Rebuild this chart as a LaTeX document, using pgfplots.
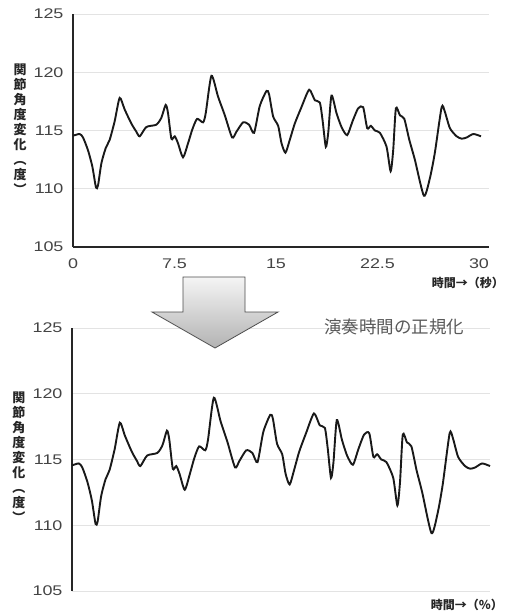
\documentclass[border=0pt]{standalone}
\usepackage{pgfplots}
\pgfplotsset{compat=1.18}
\usepackage{pgfplotstable}
\usepackage{fontspec}
\setmainfont{Liberation Sans}
\newfontfamily\tickfont[FakeStretch=1.28]{Liberation Sans}
\newfontfamily\cjk{Noto Sans CJK JP}
\definecolor{gridc}{HTML}{E3E3E3}
\definecolor{tickc}{HTML}{444444}
\pgfplotstableread{
t y
0.00 114.55
0.49 114.70
0.74 114.40
1.11 113.30
1.43 111.90
1.70 110.10
1.85 110.30
2.10 112.20
2.42 113.50
2.71 114.20
3.08 115.80
3.45 117.80
3.82 116.80
4.31 115.60
4.68 114.90
4.93 114.50
5.42 115.30
6.16 115.50
6.53 116.10
6.85 117.20
7.02 116.50
7.27 114.30
7.52 114.50
7.76 113.90
8.13 112.70
8.50 113.90
8.82 115.10
9.17 116.00
9.61 115.70
9.81 116.50
10.23 119.70
10.72 117.90
11.22 116.30
11.76 114.40
12.08 114.90
12.57 115.70
13.01 115.50
13.38 114.80
13.80 117.10
14.30 118.40
14.49 118.10
14.79 116.20
15.16 115.40
15.41 113.90
15.70 113.10
16.02 114.20
16.39 115.60
16.88 117.00
17.45 118.50
17.87 117.60
18.24 117.40
18.44 115.90
18.68 113.60
18.86 114.80
19.10 118.00
19.47 116.50
19.84 115.30
20.26 114.60
20.66 115.80
21.07 116.90
21.44 117.00
21.74 115.20
22.01 115.40
22.31 115.00
22.68 114.80
23.17 113.60
23.47 111.50
23.66 113.30
23.86 116.90
24.16 116.30
24.48 116.00
24.85 114.20
25.26 112.50
25.93 109.40
26.37 110.90
26.74 113.10
27.24 117.00
27.48 116.60
27.85 115.20
28.35 114.50
28.72 114.30
29.09 114.40
29.58 114.70
30.15 114.50
}\angledata
\pgfplotsset{
  base/.style={
    scale only axis,
    anchor=north west,
    axis lines*=left,
    axis line style={draw=black!85, line width=1.3pt},
    ymin=105, ymax=125,
    ytick={105,110,115,120,125},
    ymajorgrids,
    grid style={gridc, line width=0.8pt},
    major tick length=0pt,
    tick label style={font=\tickfont\fontsize{14}{16}\selectfont, text=tickc},
    /pgf/number format/assume math mode=true,
    yticklabel style={xshift=-6pt},
    clip=false,
  }
}
\begin{document}
\begin{tikzpicture}
\path[use as bounding box] (0pt,0pt) rectangle (506pt,-616pt);
% top chart
\begin{axis}[base,
  at={(73pt,-14pt)}, width=416pt, height=233pt,
  xmin=0, xmax=30.74,
  xtick={0,7.5,15,22.5,30},
  xticklabels={0,7.5,15,22.5,30},
  xticklabel style={yshift=-8pt},
]
\addplot[black!90, line width=1.9pt, smooth, tension=0.4] table[x=t,y=y] {\angledata};
\end{axis}
% bottom chart
\begin{axis}[base,
  at={(72pt,-328pt)}, width=418pt, height=263pt,
  xmin=0, xmax=100,
  xtick=\empty,
  x axis line style={draw=none},
]
\addplot[black!90, line width=1.9pt, smooth, tension=0.4] table[x expr=\thisrow{t}/30.15*100,y=y] {\angledata};
\end{axis}
% y labels
\node[font=\cjk\bfseries\fontsize{13}{15}\selectfont, text=black!85, align=center, inner sep=0pt] at (20pt,-129pt) {関\\節\\角\\度\\変\\化\\︵\\度\\︶};
\node[font=\cjk\bfseries\fontsize{13}{15}\selectfont, text=black!85, align=center, inner sep=0pt] at (19pt,-457pt) {関\\節\\角\\度\\変\\化\\︵\\度\\︶};
% x labels
\node[font=\cjk\bfseries\fontsize{12}{14}\selectfont, text=black!85, anchor=east, inner sep=0pt] at (504pt,-283pt) {時間→（秒）};
\node[font=\cjk\bfseries\fontsize{12}{14}\selectfont, text=black!85, anchor=east, inner sep=0pt] at (503pt,-605pt) {時間→（％）};
% arrow
\shade[top color=gray!8, bottom color=gray!60, draw=black!70, line width=0.8pt]
  (183pt,-277pt) -- (245pt,-277pt) -- (245pt,-312pt) -- (278pt,-312pt) -- (215pt,-348pt) -- (152pt,-312pt) -- (183pt,-312pt) -- cycle;
\node[font=\cjk\fontsize{17.5}{19}\selectfont, text=black!65, inner sep=0pt] at (394pt,-327pt) {演奏時間の正規化};
\end{tikzpicture}
\end{document}
